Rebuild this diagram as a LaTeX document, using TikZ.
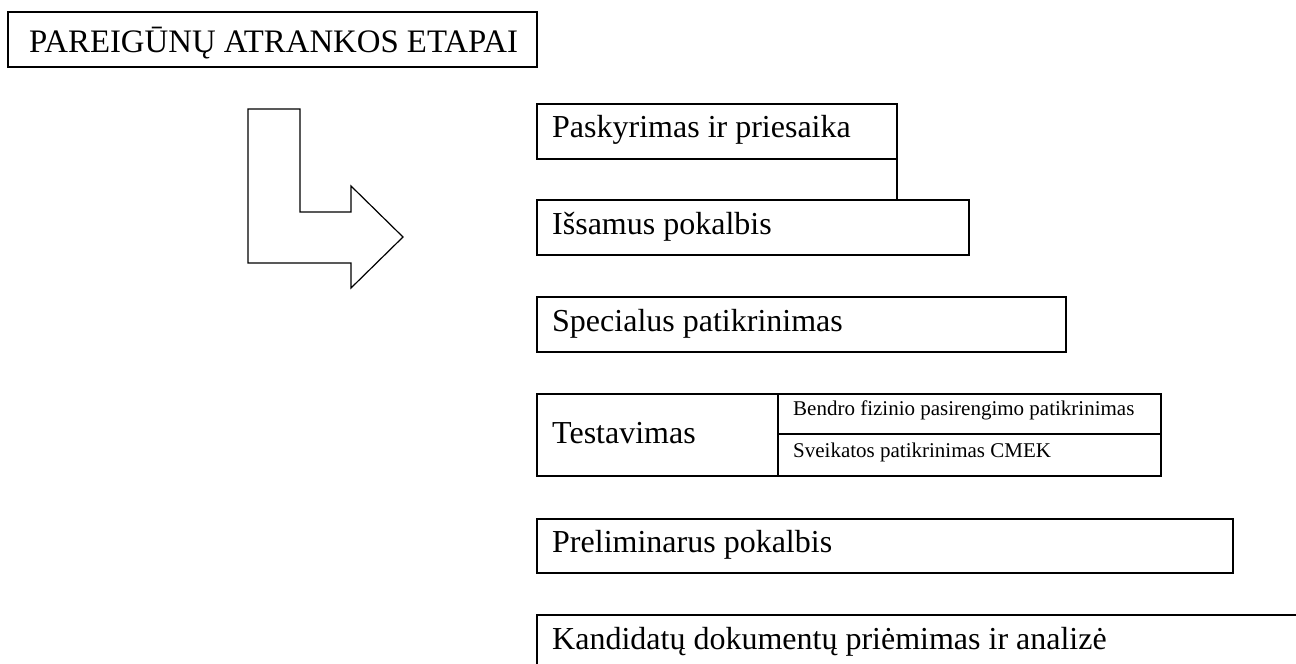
\documentclass[tikz,border=0pt]{standalone}
\usepackage{fontspec}
\setmainfont{Liberation Serif}
\usetikzlibrary{calc}
\begin{document}
\begin{tikzpicture}[x=1pt,y=-1pt,
  stagebox/.style={draw,line width=1.8pt,anchor=north west,inner sep=0pt,outer sep=0pt},
  bigtxt/.style={anchor=base west,inner sep=0pt,font=\fontsize{32}{38}\selectfont},
  titletxtstyle/.style={anchor=base west,inner sep=0pt,font=\fontsize{32.8}{38}\selectfont},
  smalltxt/.style={anchor=base west,inner sep=0pt,font=\fontsize{21}{25}\selectfont},
  divline/.style={line width=1.8pt},
  arrowshape/.style={draw,line width=1.2pt,line join=miter}]
\useasboundingbox (0,0) rectangle (1296,664);
\clip (0,0) rectangle (1296,664);
\fill[white] (0,0) rectangle (1296,664);
% title
\node[stagebox,minimum width=529pt,minimum height=55pt] (title) at (8,12) {};
\node[titletxtstyle] (titletxt) at (29,52) {PAREIGŪNŲ ATRANKOS ETAPAI};
% bent arrow
\draw[arrowshape] (248,109) -- (300,109) -- (300,212) -- (351,212) -- (351,186)
  -- (403,237) -- (351,288) -- (351,263) -- (248,263) -- cycle;
% stages
\node[stagebox,minimum width=360pt,minimum height=55pt] (pask) at (537,104) {};
\node[bigtxt] (pasktxt) at (552,137) {Paskyrimas ir priesaika};
\node[stagebox,minimum width=432pt,minimum height=55pt] (issa) at (537,200) {};
\node[bigtxt] (issatxt) at (552,234) {Išsamus pokalbis};
\draw[divline] (pask.south east) -- (pask.south east |- issa.north);
\node[stagebox,minimum width=529pt,minimum height=55pt] (spec) at (537,297) {};
\node[bigtxt] (spectxt) at (552,331) {Specialus patikrinimas};
\node[stagebox,minimum width=624pt,minimum height=82pt] (test) at (537,394) {};
\node[bigtxt] (testtxt) at (552,443) {Testavimas};
\coordinate (dtop) at (778,394);
\coordinate (dmid) at (778,434);
\draw[divline] (dtop) -- (dtop |- test.south);
\draw[divline] (dmid) -- (dmid -| test.east);
\node[smalltxt] (bendtxt) at (793,415) {Bendro fizinio pasirengimo patikrinimas};
\node[smalltxt] (sveitxt) at (793,457) {Sveikatos patikrinimas CMEK};
\node[stagebox,minimum width=696pt,minimum height=54pt] (prel) at (537,519) {};
\node[bigtxt] (preltxt) at (552,552) {Preliminarus pokalbis};
\node[stagebox,minimum width=800pt,minimum height=80pt] (kand) at (537,615) {};
\node[bigtxt] (kandtxt) at (552,649) {Kandidatų dokumentų priėmimas ir analizė};
\end{tikzpicture}
\end{document}
